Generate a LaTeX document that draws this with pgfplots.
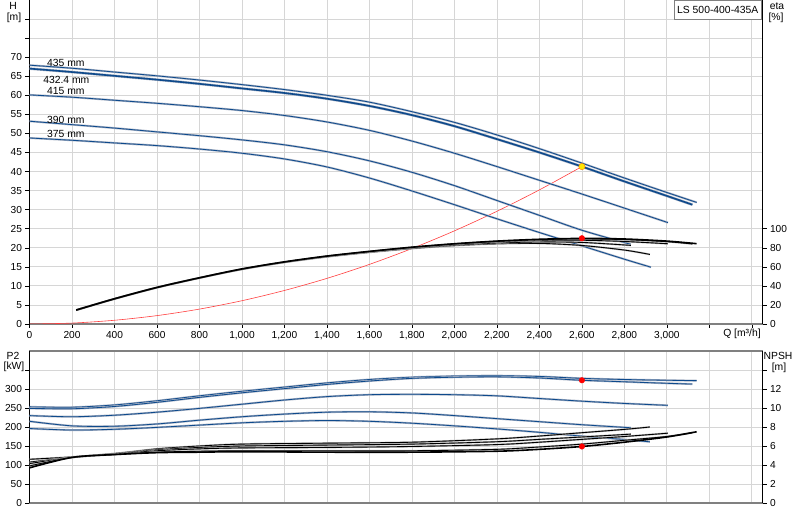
\documentclass[border=0pt]{standalone}
\usepackage{fontspec}
\setmainfont{Liberation Sans}
\usepackage{pgfplots}
\pgfplotsset{compat=1.18}

\definecolor{hblue}{HTML}{0E4A8C}
\definecolor{halo}{HTML}{A8B2C4}
\definecolor{gridc}{HTML}{D6D6D6}
\definecolor{sysred}{HTML}{FF4040}
\definecolor{axgray}{HTML}{808080}

\pgfplotsset{
  base/.style={
    scale only axis, width=733bp, xmin=0, xmax=3450,
    tick align=outside, major tick length=4bp,
    tick style={black, line width=0.5bp},
    /pgf/number format/assume math mode=true,
    tick label style={font=\fontsize{10.2}{12}\selectfont},
  },
  hcurve/.style={hblue, line width=0.8bp, smooth, preaction={draw=halo, line width=2bp}},
  hthick/.style={hblue, line width=1.6bp, smooth, preaction={draw=halo, line width=2.6bp}},
  kcurve/.style={black, line width=0.9bp, smooth, preaction={draw=gray!60, line width=1.8bp}},
  kthick/.style={black, line width=1.6bp, smooth},
  reddot/.style={only marks, mark=*, mark size=2.8bp, mark options={fill=red, draw=red}},
}

\begin{document}
\begin{tikzpicture}[font=\fontsize{10.4}{12}\selectfont]
\useasboundingbox (0,0) rectangle (800bp,-520bp);

% ---- head curves ----
\begin{axis}[base, at={(29.5bp,0bp)}, anchor=north west, height=324bp,
  ymin=0, ymax=85,
  axis x line*=bottom, axis y line*=left,
  x axis line style={axgray, line width=1.5bp},
  y axis line style={black, line width=0.8bp},
  xtick={0,200,...,3400},
  xticklabels={0,200,400,600,800,{1,000},{1,200},{1,400},{1,600},{1,800},{2,000},{2,200},{2,400},{2,600},{2,800},{3,000},{},{}},
  ytick={0,5,...,80},
  yticklabels={0,5,10,15,20,25,30,35,40,45,50,55,60,65,70,{},{}},
  grid=major, grid style={gridc, line width=0.8bp},
]
% system curve
\addplot[sysred, line width=0.6bp, smooth] coordinates {
(0,0) (200,0.24) (400,0.98) (600,2.20) (800,3.91) (1000,6.11) (1200,8.80)
(1400,11.97) (1600,15.64) (1800,19.80) (2000,24.44) (2200,29.57) (2400,35.19) (2600,41.3)};
% 375 mm
\addplot[hcurve] coordinates {
(0,48.8) (200,48.2) (400,47.5) (600,46.8) (800,45.9) (1000,44.8) (1200,43.3) (1400,41.2)
(1600,38.3) (1800,34.9) (2000,31.3) (2200,27.6) (2400,24.0) (2600,20.5) (2800,17.0) (2925,14.9)};
% 390 mm
\addplot[hcurve] coordinates {
(0,53.2) (200,52.3) (400,51.4) (600,50.4) (800,49.4) (1000,48.3) (1200,47.0) (1400,45.2)
(1600,42.8) (1800,39.8) (2000,36.3) (2200,32.4) (2400,28.5) (2600,24.6) (2830,20.9)};
% 415 mm
\addplot[hcurve] coordinates {
(0,60.1) (200,59.5) (400,58.7) (600,57.9) (800,57.0) (1000,56.0) (1200,54.7) (1400,53.0)
(1600,50.8) (1800,48.0) (2000,44.8) (2200,41.3) (2400,37.7) (2600,34.1) (2800,30.4) (3005,26.6)};
% 435 mm
\addplot[hcurve] coordinates {
(0,67.9) (200,67.1) (400,66.1) (600,65.1) (800,64.0) (1000,62.8) (1200,61.5) (1400,60.0)
(1600,58.2) (1800,55.7) (2000,52.9) (2200,49.6) (2400,46.0) (2600,42.2) (2800,38.3) (3000,34.5) (3140,31.9)};
% 432.4 mm
\addplot[hthick] coordinates {
(0,67.0) (200,66.1) (400,65.1) (600,64.1) (800,63.0) (1000,61.8) (1200,60.6) (1400,59.1)
(1600,57.2) (1800,54.8) (2000,51.9) (2200,48.5) (2400,45.0) (2600,41.3) (2800,37.4) (3000,33.6) (3120,31.3)};
\addplot[only marks, mark=*, mark size=3.2bp, mark options={fill=yellow!90!orange, draw=orange}]
  coordinates {(2600,41.3)};
\node[anchor=west, inner sep=0pt] at (axis cs:82,68.4) {435 mm};
\node[anchor=west, inner sep=0pt] at (axis cs:64,64.0) {432.4 mm};
\node[anchor=west, inner sep=0pt] at (axis cs:82,61.1) {415 mm};
\node[anchor=west, inner sep=0pt] at (axis cs:82,53.5) {390 mm};
\node[anchor=west, inner sep=0pt] at (axis cs:82,49.8) {375 mm};
\end{axis}

% ---- efficiency ----
\begin{axis}[base, at={(29.5bp,0bp)}, anchor=north west, height=324bp,
  ymin=0, ymax=340,
  axis x line=none, axis y line*=right,
  y axis line style={black, line width=0.8bp},
  ytick={0,20,...,100},
]
\addplot[kcurve] coordinates {
(220,14.7) (400,26.4) (600,38.2) (800,48.3) (1000,57.4) (1200,64.7) (1400,70.5) (1600,75.2)
(1800,79.2) (2000,82.3) (2200,84.2) (2400,84.6) (2600,82.4) (2800,77.6) (2920,73)};
\addplot[kcurve] coordinates {
(220,14.6) (400,26.4) (600,38.2) (800,48.4) (1000,57.5) (1200,64.8) (1400,70.8) (1600,75.6)
(1800,79.6) (2000,82.8) (2200,85) (2400,86.1) (2600,85.6) (2830,82.5)};
\addplot[kcurve] coordinates {
(220,14.6) (400,26.4) (600,38.3) (800,48.4) (1000,57.6) (1200,65.0) (1400,71.1) (1600,76)
(1800,80.3) (2000,83.7) (2200,86.2) (2400,87.7) (2600,87.9) (2800,86.6) (3005,84.2)};
\addplot[kcurve] coordinates {
(220,14.5) (400,26.3) (600,38.2) (800,48.4) (1000,57.6) (1200,65.0) (1400,71.1) (1600,76)
(1800,80.4) (2000,84) (2200,86.7) (2400,88.5) (2600,89.3) (2800,88.6) (3000,86.4) (3120,84)};
\addplot[kthick] coordinates {
(220,14.7) (400,26.5) (600,38.4) (800,48.5) (1000,57.8) (1200,65.2) (1400,71.3) (1600,76.2)
(1800,80.6) (2000,84.2) (2200,87) (2400,88.9) (2600,89.8) (2800,89.2) (3000,87) (3140,84.3)};
\addplot[reddot] coordinates {(2600,90)};
\end{axis}

% ---- power ----
\begin{axis}[base, at={(29.5bp,-351bp)}, anchor=north west, height=152bp,
  ymin=0, ymax=400,
  axis x line*=box, axis y line*=left,
  x axis line style={axgray, line width=1.3bp},
  y axis line style={black, line width=0.8bp},
  xtick={0,200,...,3400}, xticklabels={}, x tick style={draw=none},
  ytick={0,50,...,350},
  yticklabels={0,50,100,150,200,250,300,{}},
  grid=major, grid style={gridc, line width=0.8bp},
]
% 375 mm
\addplot[hcurve] coordinates {
(0,196) (200,192) (400,194) (600,199) (800,205) (1000,211) (1200,215) (1400,217) (1600,215)
(1800,210) (2000,203) (2200,195) (2400,186) (2600,176) (2800,167) (2920,161)};
% 390 mm
\addplot[hcurve] coordinates {
(0,215) (200,203) (400,202) (600,208) (800,218) (1000,227) (1200,234) (1400,239) (1600,240)
(1800,237) (2000,230) (2200,222) (2400,214) (2600,206) (2830,198)};
% 415 mm
\addplot[hcurve] coordinates {
(0,230) (200,227) (400,231) (600,239) (800,249) (1000,260) (1200,271) (1400,280) (1600,285)
(1800,286) (2000,285) (2200,282) (2400,275) (2600,268) (2800,262) (3005,257)};
% 435 mm
\addplot[hcurve] coordinates {
(0,253) (200,252) (400,258) (600,269) (800,282) (1000,294) (1200,305) (1400,316) (1600,325)
(1800,331) (2000,334) (2200,335) (2400,333) (2600,328) (2800,325) (3000,323) (3140,322)};
% 432.4 mm
\addplot[hcurve] coordinates {
(0,249) (200,248) (400,254) (600,265) (800,278) (1000,290) (1200,301) (1400,312) (1600,321)
(1800,328) (2000,331) (2200,332) (2400,329) (2600,323) (2800,319) (3000,315) (3120,313)};
\addplot[reddot] coordinates {(2600,323)};
\end{axis}

% ---- NPSH ----
\begin{axis}[base, at={(29.5bp,-351bp)}, anchor=north west, height=152bp,
  ymin=0, ymax=16,
  axis x line=none, axis y line*=right,
  y axis line style={black, line width=0.8bp},
  ytick={0,2,...,14},
  yticklabels={0,2,4,6,8,10,12,{}},
]
\addplot[kcurve] coordinates {
(0,4.6) (200,4.85) (400,5.2) (600,5.7) (800,6.0) (1000,6.2) (1400,6.3) (1800,6.4)
(2200,6.75) (2400,7.05) (2600,7.4) (2800,7.75) (2920,8.0)};
\addplot[kcurve] coordinates {
(0,4.3) (200,4.8) (400,5.2) (600,5.6) (800,5.85) (1000,6.0) (1400,6.1) (1800,6.2)
(2200,6.45) (2400,6.7) (2600,6.95) (2830,7.25)};
\addplot[kcurve] coordinates {
(0,4.15) (200,4.8) (400,5.15) (600,5.5) (800,5.7) (1000,5.8) (1400,5.85) (1800,5.95)
(2200,6.15) (2400,6.4) (2600,6.7) (2800,7.0) (3005,7.35)};
\addplot[kcurve] coordinates {
(0,3.9) (200,4.8) (400,5.1) (600,5.35) (800,5.45) (1000,5.5) (1400,5.5) (1800,5.5)
(2200,5.65) (2400,5.9) (2600,6.2) (2800,6.6) (3000,7.0) (3120,7.4)};
\addplot[kthick] coordinates {
(0,3.7) (200,4.8) (400,5.1) (600,5.3) (800,5.35) (1000,5.4) (1400,5.35) (1800,5.35)
(2200,5.45) (2400,5.65) (2600,5.95) (2800,6.4) (3000,6.95) (3140,7.5)};
\addplot[reddot] coordinates {(2600,5.95)};
\end{axis}

% ---- titles and unit labels ----
\node at (13bp,-6bp) {H};
\node at (14bp,-18bp) {[m]};
\node at (777bp,-6bp) {eta};
\node at (776bp,-18bp) {[\%]};
\node at (742bp,-334bp) {Q [m³/h]};
\node at (13bp,-356bp) {P2};
\node at (14bp,-367bp) {[kW]};
\node at (778bp,-356bp) {NPSH};
\node at (779bp,-368bp) {[m]};
\node[draw=axgray, fill=white, anchor=north east, minimum width=87bp, minimum height=19bp, inner sep=1bp]
  at (761.5bp,0bp) {LS 500-400-435A};
\end{tikzpicture}
\end{document}
